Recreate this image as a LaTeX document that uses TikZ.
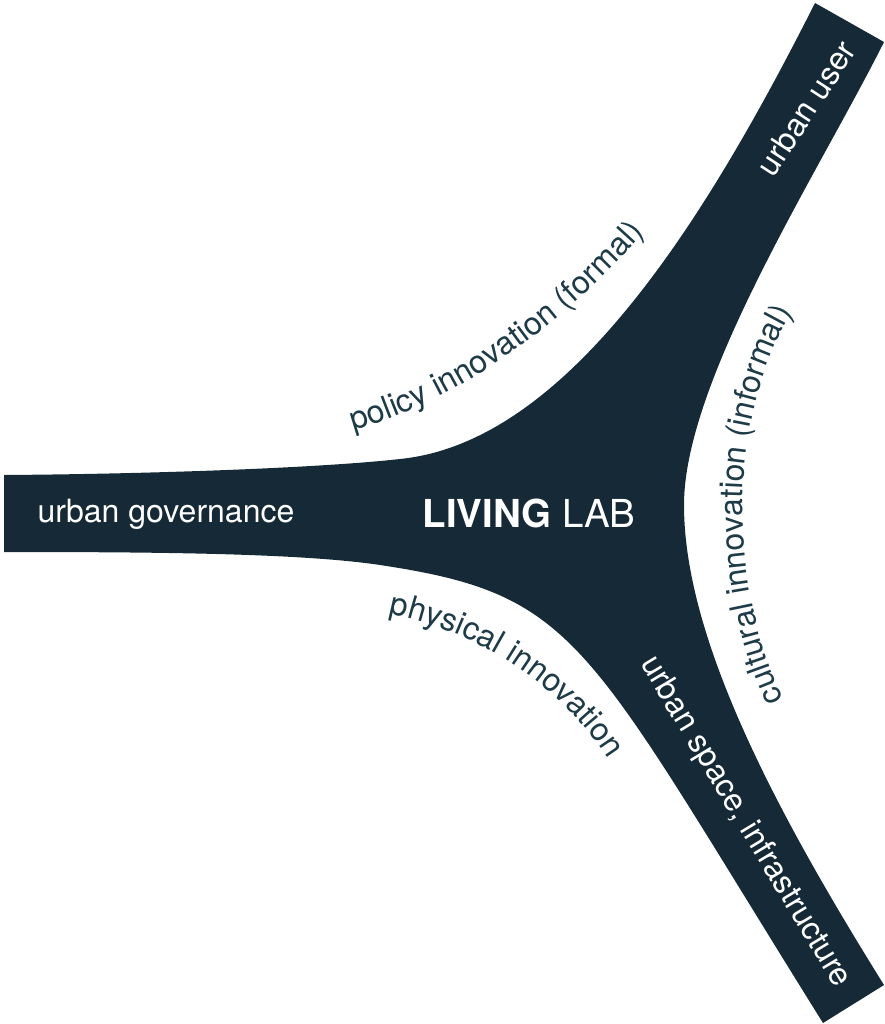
\documentclass[tikz,border=0pt]{standalone}
\usepackage{fontspec}
\setmainfont{TeX Gyre Heros}
\usetikzlibrary{decorations.text}
\definecolor{labnavy}{HTML}{152A36}
\definecolor{labtext}{HTML}{1E3B48}
\newcommand{\labfont}{\fontsize{32}{38}\selectfont}
\tikzset{
	arm label/.style = {text=white, font=\labfont, inner sep=0pt},
	edge label/.style = {decorate, decoration={text along path, text align=center, text color=labtext, text={|\labfont|#1}}}
}

\begin{document}
\begin{tikzpicture}[x=1pt, y=-1pt]
	\useasboundingbox (0,0) rectangle (884,1024);
	% ====== Arms ========
	\coordinate (G1) at (4,475);
	\coordinate (G2) at (4,552);
	\coordinate (U1) at (815,3);
	\coordinate (U2) at (884,42);
	\coordinate (S1) at (884,985);
	\coordinate (S2) at (823,1023);
	\coordinate (N) at (684,505);
	\fill[labnavy] (G1) .. controls (150,474) and (320,468) .. (400,459)
		.. controls (569,442) and (707,217) .. (U1) -- (U2)
		.. controls (820,170) and (684,380) .. (N)
		.. controls (684,640) and (778,815) .. (S1) -- (S2)
		.. controls (584,640) and (580,595) .. (380,565)
		.. controls (300,553) and (150,552) .. (G2) -- cycle;
	% ====== Labels ========
	\node[arm label, anchor=base] (gov) at (166,522) {urban governance};
	\node[arm label, anchor=base, font=\fontsize{38.5}{46}\selectfont] (lab) at (529,527) {\bfseries LIVING\mdseries\ LAB};
	\node[arm label, rotate=57] (user) at (806,108) {urban user};
	\node[arm label, rotate=-59] (space) at (745,822) {urban space, infrastructure};
	% ====== Edges ========
	\path[edge label={policy innovation (formal)}] (348,432) .. controls (450,405) and (560,330) .. (648,228);
	\path[edge label={cultural innovation (informal)}] (790,712) .. controls (730,600) and (720,420) .. (800,300);
	\path[edge label={physical innovation}] (382,612) .. controls (470,628) and (560,680) .. (612,765);
\end{tikzpicture}
\end{document}
